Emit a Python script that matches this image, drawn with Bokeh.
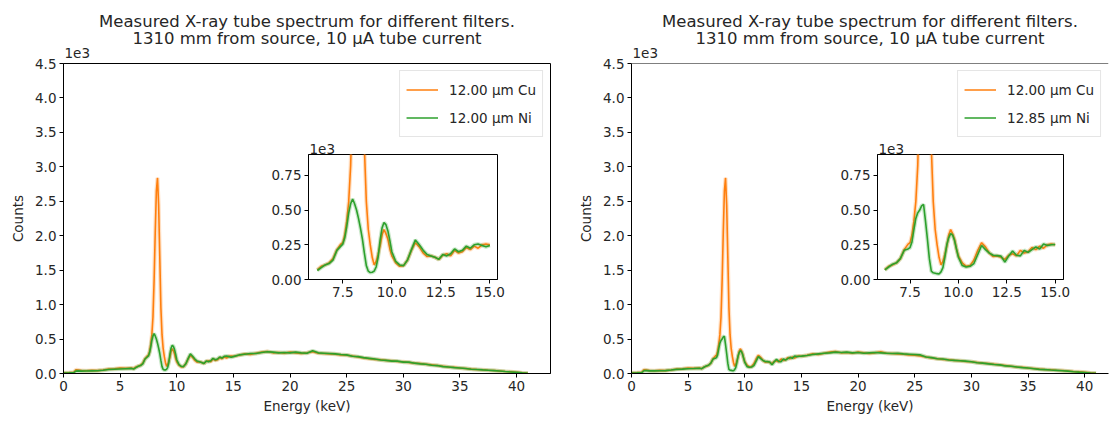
import numpy as np
from bokeh.plotting import figure
from bokeh.layouts import row, column
from bokeh.models import Range1d, FixedTicker, Title, Legend, LegendItem, NumeralTickFormatter, Span
from bokeh.embed import file_html
from bokeh.resources import INLINE

FONT = "DejaVu Sans"
TXT = "#262626"
ORANGE = "#ff7f0e"
GREEN = "#2ca02c"

# ---------------- data ----------------
energy_kev = [
    0.0, 0.5, 0.9, 1.1, 1.3, 1.6, 2.0, 2.5, 3.0, 3.5, 4.0, 4.5, 5.0, 5.5, 6.0,
    6.2, 6.4, 6.6, 6.8, 7.0, 7.2, 7.4,
    7.5, 7.6, 7.7, 7.8, 7.9, 8.0, 8.1, 8.2, 8.3, 8.4, 8.5, 8.6, 8.7, 8.8, 8.9,
    9.0, 9.1, 9.2, 9.3, 9.4, 9.5, 9.6, 9.7, 9.8, 9.9, 10.0,
    10.2, 10.4, 10.6, 10.8, 11.0, 11.2, 11.4, 11.6, 11.8, 12.0, 12.2, 12.4, 12.6,
    12.8, 13.0, 13.2, 13.4, 13.6, 13.8, 14.0, 14.2, 14.4, 14.6, 14.8, 15.0,
    15.5, 16.0, 16.5, 17.0, 17.5, 18.0, 18.5, 19.0, 19.5, 20.0,
    20.5, 21.0, 21.5, 22.0, 22.5, 23.0, 23.5, 24.0, 24.5, 25.0,
    25.5, 26.0, 26.5, 27.0, 27.5, 28.0, 28.5, 29.0, 29.5, 30.0,
    30.5, 31.0, 31.5, 32.0, 32.5, 33.0, 33.5, 34.0, 34.5, 35.0,
    35.5, 36.0, 36.5, 37.0, 37.5, 38.0, 38.5, 39.0, 39.5, 40.0,
    40.5, 41.0,
]

cu_12um = [
    10, 12, 14, 55, 50, 42, 40, 45, 42, 50, 65, 68, 80, 75, 80,
    70, 95, 105, 120, 150, 215, 255,
    265, 320, 420, 560, 820, 1350, 2050, 2650, 2840, 2450, 1700, 950, 560, 360, 250,
    160, 105, 130, 180, 240, 320, 360, 330, 290, 220, 170,
    120, 95, 100, 140, 210, 265, 235, 190, 165, 170, 160, 145, 175,
    185, 170, 210, 190, 200, 230, 215, 240, 225, 250, 255, 250,
    265, 285, 275, 295, 310, 320, 300, 305, 295, 310,
    300, 290, 300, 315, 295, 290, 285, 280, 270, 265,
    255, 240, 225, 215, 205, 200, 190, 185, 175, 170,
    160, 150, 145, 135, 125, 115, 105, 95, 90, 80,
    72, 64, 58, 54, 48, 44, 37, 30, 24, 17,
    9, 4,
]

ni_12um = [
    8, 10, 12, 35, 38, 35, 36, 38, 40, 48, 58, 62, 66, 70, 74,
    65, 85, 105, 115, 140, 210, 240,
    255, 300, 380, 480, 545, 580, 545, 500, 440, 370, 290, 190, 100, 60, 50,
    52, 60, 90, 160, 280, 370, 410, 395, 350, 280, 200,
    130, 105, 100, 140, 215, 285, 250, 210, 180, 170, 160, 145, 180,
    170, 185, 220, 200, 210, 240, 225, 250, 255, 245, 235, 245,
    270, 280, 290, 290, 305, 315, 310, 300, 305, 300,
    310, 300, 295, 330, 300, 295, 290, 285, 275, 270,
    250, 245, 230, 220, 210, 195, 190, 180, 180, 165,
    165, 150, 140, 135, 120, 115, 100, 95, 85, 80,
    72, 62, 58, 52, 48, 42, 36, 28, 22, 16,
    9, 4,
]

ni_1285um = [
    8, 10, 12, 40, 42, 38, 38, 40, 42, 50, 60, 64, 70, 72, 76,
    70, 90, 110, 120, 150, 210, 220,
    230, 270, 360, 440, 480, 500, 530, 540, 420, 290, 150, 60, 48, 45, 42,
    40, 55, 85, 160, 250, 300, 330, 320, 280, 220, 160,
    100, 90, 95, 115, 180, 245, 215, 190, 175, 172, 168, 125, 170,
    205, 175, 170, 210, 195, 215, 235, 220, 255, 245, 250, 252,
    262, 275, 285, 295, 300, 310, 305, 310, 300, 305,
    295, 300, 305, 300, 295, 290, 295, 285, 280, 275,
    270, 240, 230, 215, 210, 195, 190, 185, 180, 170,
    155, 150, 140, 130, 125, 110, 105, 95, 85, 80,
    70, 60, 56, 50, 46, 40, 34, 26, 20, 15,
    8, 4,
]

title_line1 = "Measured X-ray tube spectrum for different filters."
title_line2 = "1310 mm from source, 10 \u03bcA tube current"
label_cu = "12.00 \u03bcm Cu"
label_ni_left = "12.00 \u03bcm Ni"
label_ni_right = "12.85 \u03bcm Ni"
x_label = "Energy (keV)"
y_label = "Counts"
scale_label = "1e3"

main_xticks = [0, 5, 10, 15, 20, 25, 30, 35, 40]
main_yticks = [0, 0.5, 1.0, 1.5, 2.0, 2.5, 3.0, 3.5, 4.0, 4.5]
inset_xticks = [7.5, 10.0, 12.5, 15.0]
inset_yticks = [0, 0.25, 0.5, 0.75]
inset_energy_window = (6.2, 15.0)

FS = "13.5px"
TFS = "16.5px"

E = np.array(energy_kev)


def k(v):
    return np.array(v, dtype=float) / 1000.0


def style_axes(p, fs):
    for ax in (p.xaxis[0], p.yaxis[0]):
        ax.axis_line_color = "black"
        ax.major_tick_line_color = "black"
        ax.major_tick_in = 0
        ax.major_tick_out = 4
        ax.minor_tick_line_color = None
        ax.major_label_standoff = 3
        ax.major_label_text_font = FONT
        ax.major_label_text_font_size = fs
        ax.major_label_text_color = TXT
        ax.axis_label_text_font = FONT
        ax.axis_label_text_font_size = fs
        ax.axis_label_text_font_style = "normal"
        ax.axis_label_text_color = TXT
    p.grid.visible = False


def draw_pair(p, x, cu, ni):
    p.line(x, cu, line_color=ORANGE, line_width=4, line_alpha=0.25)
    cu_l = p.line(x, cu, line_color=ORANGE, line_width=1.6)
    p.line(x, ni, line_color=GREEN, line_width=4, line_alpha=0.25)
    ni_l = p.line(x, ni, line_color=GREEN, line_width=1.6)
    return cu_l, ni_l


def make_main(ni_vals, ni_label, width, bl, br, x_end, outline):
    p = figure(width=width, height=421, x_range=Range1d(0, x_end), y_range=Range1d(0, 4.5),
               output_backend="svg", toolbar_location=None, title=None,
               min_border_left=bl, min_border_right=br, min_border_top=63, min_border_bottom=48)
    p.background_fill_color = "white"
    p.border_fill_color = "white"
    p.outline_line_color = "black" if outline else None
    style_axes(p, FS)
    p.xaxis[0].ticker = FixedTicker(ticks=main_xticks)
    p.yaxis[0].ticker = FixedTicker(ticks=main_yticks)
    p.yaxis[0].formatter = NumeralTickFormatter(format="0.0")
    p.xaxis[0].axis_label = x_label
    p.yaxis[0].axis_label = y_label
    p.xaxis[0].axis_label_standoff = 4
    p.yaxis[0].axis_label_standoff = 6
    if not outline:
        p.add_layout(Span(location=4.5, dimension="width", line_color="black", line_width=1))

    cu_l, ni_l = draw_pair(p, E, k(cu_12um), k(ni_vals))

    leg = Legend(items=[LegendItem(label=label_cu, renderers=[cu_l]),
                        LegendItem(label=ni_label, renderers=[ni_l])],
                 location="top_right")
    leg.label_text_font = FONT
    leg.label_text_font_size = FS
    leg.label_text_color = TXT
    leg.border_line_color = "#cccccc"
    leg.border_line_width = 1
    leg.background_fill_alpha = 0.8
    leg.margin = 7
    leg.padding = 6
    leg.spacing = 3
    leg.glyph_width = 32
    leg.glyph_height = 25
    leg.label_height = 25
    leg.label_standoff = 11
    p.add_layout(leg)

    p.add_layout(Title(text=scale_label, align="left", offset=1, text_font=FONT, text_font_size=FS,
                       text_font_style="normal", text_color=TXT, standoff=12), "above")
    p.add_layout(Title(text=title_line2, align="center", text_font=FONT, text_font_size=TFS,
                       text_font_style="normal", text_color=TXT, standoff=-17), "above")
    p.add_layout(Title(text=title_line1, align="center", text_font=FONT, text_font_size=TFS,
                       text_font_style="normal", text_color=TXT, standoff=10), "above")
    return p


def make_inset(ni_vals, frame_w, x0, x1, bl, br):
    bt, bb = 22, 28
    p = figure(width=bl + frame_w + br, height=bt + 125 + bb,
               x_range=Range1d(x0, x1), y_range=Range1d(0, 0.9),
               output_backend="svg", toolbar_location=None, title=None,
               min_border_left=bl, min_border_right=br, min_border_top=bt, min_border_bottom=bb)
    p.background_fill_color = "white"
    p.border_fill_color = None
    p.outline_line_color = "black"
    style_axes(p, FS)
    p.xaxis[0].ticker = FixedTicker(ticks=inset_xticks)
    p.yaxis[0].ticker = FixedTicker(ticks=inset_yticks)
    p.xaxis[0].formatter = NumeralTickFormatter(format="0.0")
    p.yaxis[0].formatter = NumeralTickFormatter(format="0.00")
    m = (E >= inset_energy_window[0]) & (E <= inset_energy_window[1])
    draw_pair(p, E[m], k(cu_12um)[m], k(ni_vals)[m])
    p.add_layout(Title(text=scale_label, align="left", offset=1, text_font=FONT, text_font_size=FS,
                       text_font_style="normal", text_color=TXT, standoff=2), "above")
    return p


main_l = make_main(ni_12um, label_ni_left, 570, 63, 20, 43.0, True)
main_r = make_main(ni_1285um, label_ni_right, 539, 61, 1, 42.1, False)

ins_l = make_inset(ni_12um, 189, 5.75, 15.39, 63, 20)
ins_r = make_inset(ni_1285um, 186, 5.82, 15.43, 61, 24)

wrap_l = row(ins_l)
wrap_r = row(ins_r)
wrap_l.margin = (132 - 421, 0, 0, 308 - 63)
wrap_r.margin = (132 - 421, 0, 0, 877 - 61 - 570)

layout = row(column(main_l, wrap_l), column(main_r, wrap_r))

open("out.html", "w").write(file_html(layout, INLINE))
